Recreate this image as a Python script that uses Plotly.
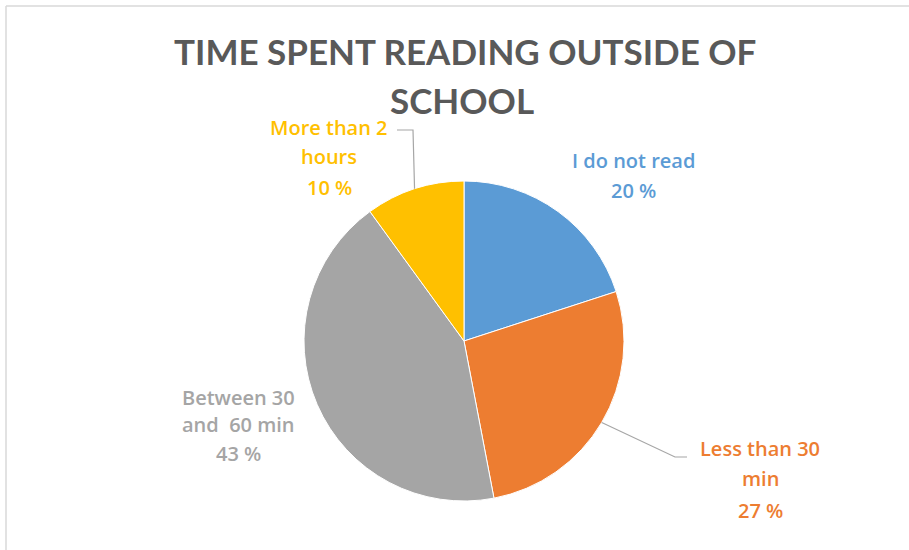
import math
import plotly.graph_objects as go

# ---- data ----
categories = ["I do not read", "Less than 30 min", "Between 30 and 60 min", "More than 2 hours"]
values = [20, 27, 43, 10]
colors = ["#5B9BD5", "#ED7D31", "#A5A5A5", "#FFC000"]
label_lines = [
    ["I do not read", "20 %"],
    ["Less than 30", "min", "27 %"],
    ["Between 30", "and  60 min", "43 %"],
    ["More than 2", "hours", "10 %"],
]
title_lines = ["TIME SPENT READING OUTSIDE OF", "SCHOOL"]

W, H = 909, 550
TITLE_FONT = "Lato, 'Open Sans', sans-serif"
LABEL_FONT = "'Open Sans', Lato, sans-serif"

def px(x):
    return x / W

def py(y):
    return 1 - y / H

# pie geometry (pixels)
CX, CY, R = 464, 341, 160

fig = go.Figure()
fig.add_trace(go.Pie(
    labels=categories,
    values=values,
    sort=False,
    direction="clockwise",
    rotation=0,
    marker=dict(colors=colors, line=dict(color="white", width=1)),
    textinfo="none",
    hoverinfo="label+percent",
    showlegend=False,
    domain=dict(x=[px(CX - R), px(CX + R)], y=[py(CY + R), py(CY - R)]),
))

annotations = []
# title
title_pos = [(465, 51), (462, 100)]
for t, (x, y) in zip(title_lines, title_pos):
    annotations.append(dict(text=f"<b>{t}</b>", x=px(x), y=py(y), xref="paper", yref="paper",
                            xanchor="center", yanchor="middle", showarrow=False,
                            font=dict(family=TITLE_FONT, size=35, color="#595959")))

# slice labels
label_pos = [
    (633, [160, 190]),
    (760, [448, 479, 510]),
    (238, [397, 424, 453]),
    (329, [127, 157, 187]),
]
for lines, col, (x, ys) in zip(label_lines, colors, label_pos):
    for ln, y in zip(lines, ys):
        annotations.append(dict(text=ln, x=px(x), y=py(y), xref="paper", yref="paper",
                                xanchor="center", yanchor="middle", showarrow=False,
                                font=dict(family=LABEL_FONT, size=20, color=col, weight=600)))

# leader lines from slice mid-angle on the rim
total = sum(values)
cum = 0
mids = []
for v in values:
    mids.append((cum + v / 2) / total * 2 * math.pi)
    cum += v

def rim(i):
    a = mids[i]
    return CX + R * math.sin(a), CY - R * math.cos(a)

shapes = []
# Less than 30 min
x0, y0 = rim(1)
pts = [(x0, y0), (675, 457), (687, 457)]
shapes.append(dict(type="path", xref="paper", yref="paper",
                   path="M " + " L ".join(f"{px(a)},{py(b)}" for a, b in pts),
                   line=dict(color="#A6A6A6", width=1.2)))
# More than 2 hours
x0, y0 = rim(3)
pts = [(x0, y0), (413, 130), (397, 130)]
shapes.append(dict(type="path", xref="paper", yref="paper",
                   path="M " + " L ".join(f"{px(a)},{py(b)}" for a, b in pts),
                   line=dict(color="#A6A6A6", width=1.2)))
# chart border (left and top)
shapes.append(dict(type="line", xref="paper", yref="paper", x0=px(6), x1=px(6), y0=0, y1=py(6),
                   line=dict(color="#D9D9D9", width=1.5)))
shapes.append(dict(type="line", xref="paper", yref="paper", x0=px(6), x1=1, y0=py(6), y1=py(6),
                   line=dict(color="#D9D9D9", width=1.5)))

fig.update_layout(
    width=W, height=H,
    margin=dict(l=0, r=0, t=0, b=0),
    paper_bgcolor="white",
    plot_bgcolor="white",
    annotations=annotations,
    shapes=shapes,
)

fig.write_html("out.html", config={"displayModeBar": False},
               post_script="document.body.style.margin='0px';document.body.style.overflow='hidden';")
